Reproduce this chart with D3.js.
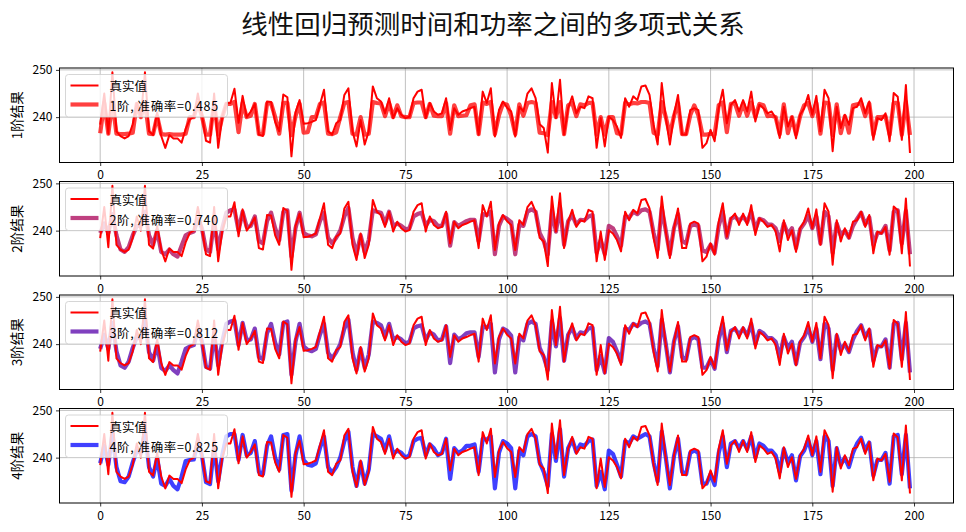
<!DOCTYPE html>
<html><head><meta charset="utf-8">
<script src="https://cdn.jsdelivr.net/npm/d3@7/dist/d3.min.js"></script>
<style>
html,body{margin:0;padding:0;background:#fff;}
svg{display:block;}
text{font-family:"Noto Sans CJK SC","DejaVu Sans",sans-serif;}
</style></head>
<body>
<svg id="chart" width="966" height="532"></svg>
<script>
const title = "线性回归预测时间和功率之间的多项式关系";
const yLabels = ["1阶结果","2阶结果","3阶结果","4阶结果"];
const orders = [1,2,3,4];
const accuracies = [0.485,0.740,0.812,0.825];
const predColors = ["#ff0000","#aa0055","#5500aa","#0000ff"];
const xTicks = [0,25,50,75,100,125,150,175,200];
const yTicks = [240,250];

const actual = [238.4,245,236.5,249.5,237,236,235.5,236,238.5,243,
240,249.5,237,236.2,241,236,233.5,236.2,235.5,235.5,
234.6,237.5,239.5,240,245,240.5,235,234.6,245,233.5,
240,243,243,246,238.8,244.5,240,241.2,242.8,236.3,
236,243.3,243.2,239,237,244.8,244.2,231.7,241,243.6,
238.6,238.7,239,239.4,242.6,245.8,237,236.3,238.7,239.4,
244.7,246.1,237,233.8,239.4,234.2,237,246.5,244,243.3,
240.8,244,239.8,241.9,240.5,239.8,240.1,244,245.4,245.8,
239.8,243,241.2,240.5,240.8,244,237.3,241.9,240.5,241.2,
241.5,241.9,242.2,236.3,245.4,243,246.1,235.9,241.5,243.3,
242,241.2,235.9,242.2,241.2,245,246.1,244,238.5,237.7,
232.5,247.2,239.8,247.9,236.3,241.9,244.4,240.8,242.2,241.9,
244.4,244,233.5,239.8,233.8,240.1,239.4,238,235.6,244,
242.2,244.4,243.6,246.5,246.7,244.7,238.4,234.2,247.2,239.8,
234.2,240.5,244.7,236.3,236.3,241.5,241.9,241.5,233.5,234.5,
237.3,234.9,241.9,245.8,238.7,242.6,243.6,241.2,243.6,241.2,
245.4,239.1,242.6,241.9,240.8,241.2,239.8,235.6,242.2,238,
240.1,235.5,240.5,241.9,244.7,240.5,244.5,237,245.8,244,
232.8,242.2,237.7,240.5,238.4,241.9,242.2,244,240.8,243.3,
235.2,239.8,239.4,240.8,234.9,245.1,244.3,235.2,246.8,232.4];

const pred1 = [236.6,243,236.5,243.2,236.5,236.4,236.4,236.5,236.7,242.8,
240,243.2,236.5,236.4,240.2,236.4,236.3,236.4,236.3,236.3,
236.3,236.5,240,240,243,240.2,236.3,236.3,243,236.3,
240,242.8,242.8,243.2,236.8,243,240,240.3,242.8,236.4,
236.4,242.9,242.9,240,236.5,243,243,236.2,240.2,242.9,
236.7,236.8,240,240,242.8,243.1,236.5,236.4,236.8,240,
243,243.2,236.5,236.3,240,236.3,236.5,243.2,243,242.9,
240.2,243,240,242.5,240.2,240,240,243,243.1,243.1,
240,242.8,240.3,240.2,240.2,243,236.5,242.5,240.2,240.3,
240.4,242.5,242.7,236.4,243.1,242.8,243.2,236.4,240.4,242.9,
242.6,240.3,236.4,242.7,240.3,243,243.2,243,236.7,236.6,
236.2,243.2,240,243.2,236.4,242.5,243,240.2,242.7,242.5,
243,243,236.3,240,236.3,240,240,236.6,236.4,243,
242.7,243,242.9,243.2,243.2,243,236.7,236.3,243.2,240,
236.3,240.2,243,236.4,236.4,240.4,242.5,240.4,236.3,236.3,
236.5,236.3,242.5,243.1,236.8,242.8,242.9,240.3,242.9,240.3,
243.1,240,242.8,242.5,240.2,240.3,240,236.4,242.7,236.6,
240,236.4,240.2,242.5,243,240.2,243,236.5,243.1,243,
236.2,242.7,236.6,240.2,236.7,242.5,242.7,243,240.2,242.9,
236.3,240,240,240.2,236.3,243,243,236.3,243.2,236.2];

const pred2 = [239.5,241.5,239.5,243.5,239,236,235.5,236.5,239,241,
241,244,239,237,240,235.5,235,236,235,234.5,
236.8,239,239.5,239.8,242.5,240.5,236,235.5,242,236,
240.5,243.8,244.3,244.5,240,244,240.8,241,243,237.8,
237.3,242,243.8,240.5,238,244,244.3,234.5,240.5,243.8,
239.5,239,238.8,239.2,242,243.8,238.5,237.3,238.5,240,
243,244.8,238.5,235,239,235.5,238,244.3,244,243.8,
241.5,244,241,241.5,241,240.3,240.5,243,243.5,243.8,
241,242.3,242,241,241,243.5,236.8,241.8,241,241.5,
242,242.3,242.3,237.8,243.5,243.3,244,235,241,243,
242.5,241.8,235,241.3,241,244,244.5,244,239.5,237.8,
235,244.3,239.8,245,237,242,243.3,241.3,242.3,242.2,
243,243.3,235.3,238,235,241,240.5,238.8,236.8,243,
242.8,244,243.5,244.3,244.5,244,239.5,236,244.8,240,
235,240.5,243.5,237.8,237.3,241,241.3,241,235.8,235.5,
237,235.3,241,244,238.5,242.5,243,242,243,241.8,
244,240.2,242.5,242.2,241.3,241.3,240.5,237.8,241.5,239.3,
240.5,236.3,240.3,241.5,243.2,240.5,243,237.3,244,243,
235.3,241.5,239,240,238.5,241,242.5,243.8,241.3,242.8,
237,239.5,239.5,241,235.8,244,244.3,237.3,244.2,235];

const pred3 = [239,242,239,244.5,238.5,235.5,235,236.3,239.2,241.5,
241.2,245,238.3,236.5,240,235,234.3,235.5,234.5,233.8,
236.3,239,239.5,239.8,243,240.6,235.2,234.8,242.3,235.5,
240.5,244.3,244.8,245,239.8,244.5,240.8,241,243.3,237.3,
236.8,242.3,244.3,240.3,237.8,244.5,244.8,233.5,240.5,244.3,
239.5,238.8,238.5,239,242,244.3,238.2,237,238.3,240,
243.3,245.2,238.3,234.5,239,235,237.8,244.8,244.5,244,
241.5,244.3,241,241.5,241,240.2,240.5,243.3,243.8,244,
240.8,242.5,242,240.8,241,243.8,236,242,241,241.5,
242.3,242.5,242.5,237.3,243.8,243.5,244.3,234,241,243.3,
242.8,241.8,234,241.5,240.8,244.3,244.8,244.3,239.2,237.3,
234.5,244.8,239.5,245.5,236.5,242,243.5,241.2,242.5,242.3,
243.3,243.5,234.5,237.5,234,241.3,240.5,238.5,236.3,243.3,
243,244.3,243.8,244.5,244.8,244.3,239.2,235.3,245.2,240,
234,240.5,243.8,237.3,236.8,241,241.5,241,235,235,
236.8,234.8,241,244.3,238.3,242.8,243.3,242,243.3,241.8,
244.3,240,242.8,242.3,241.3,241.3,240.5,237.3,241.5,239.2,
240.5,235.8,240.3,241.5,243.5,240.5,243.3,236.8,244.3,243.3,
234.5,241.8,238.8,240,238.3,241,242.8,244,241.5,243,
236.5,239.5,239.5,241,235,244.3,244.5,236.8,244.5,234];

const pred4 = [238.8,242.5,238.5,245,238,235,234.8,236,239,241.5,
241,245.5,238,236,240,234.5,234,235.5,234,233.3,
236,239.3,239.5,239.6,243.5,240.5,234.8,234.4,242.5,235,
240.5,244.5,245,245,239.5,244.8,240.5,241,243.5,237,
236.5,242.5,244.5,240,237.5,244.8,245,233,240.5,244.5,
239.5,238.5,238.3,238.8,242,244.5,238,236.8,238,240,
243.5,245.5,238,234,239,234.5,237.5,245,244.5,244,
241.5,244.5,240.8,241.5,241,240,240.5,243.5,244,244.2,
240.5,242.8,242,240.5,241,244,235.5,242,241,241.5,
242.5,242.5,242.8,237,244,243.8,244.5,233.5,241,243.5,
243,242,233.5,241.5,240.5,244.5,245,244.5,239,237,
234,245,239.3,246,236,242,243.8,241.2,242.8,242.5,
243.5,243.8,234,237,233.3,241.5,240.8,238.5,236,243.5,
243,244.5,244,244.5,245,244.5,239,235,245.5,240,
233.5,240.3,244,237,236.5,241,241.5,241,234.5,234.5,
236.5,234.2,241,244.5,238,243,243.5,242,243.5,241.8,
244.5,240,243,242.5,241.5,241.5,240.5,237,241.8,239,
240.5,235.2,240.3,241.5,243.8,240.5,243.5,236.5,244.5,243.5,
234,242,238.5,240,238,241,243,244.2,241.5,243.2,
236.2,239.5,239.5,241,234.5,244.5,244.8,236.5,244.8,233.5];

const predictions = [pred1,pred2,pred3,pred4];

const W = 966, H = 532;
const svg = d3.select("#chart");
svg.append("rect").attr("width",W).attr("height",H).attr("fill","#fff");

svg.append("text").attr("x",493).attr("y",34).attr("text-anchor","middle")
  .attr("font-size",26.5).attr("fill","#111").text(title);

const left = 59.5, right = 953.5, panelH = 94.5;
const tops = [68, 181.5, 295, 408.5];

const x = d3.scaleLinear().domain([-10, 209.7]).range([left, right]);

orders.forEach((ord, k) => {
  const top = tops[k];
  const y = d3.scaleLinear().domain([230.4, 250.4]).range([top + panelH, top]);
  const g = svg.append("g");

  g.selectAll(".gx").data(xTicks).enter().append("line")
    .attr("x1",d=>x(d)).attr("x2",d=>x(d)).attr("y1",top).attr("y2",top+panelH)
    .attr("stroke","#b0b0b0").attr("stroke-width",0.8);
  g.selectAll(".gy").data(yTicks).enter().append("line")
    .attr("x1",left).attr("x2",right).attr("y1",d=>y(d)).attr("y2",d=>y(d))
    .attr("stroke","#b0b0b0").attr("stroke-width",0.8);

  const clipId = "clip"+k;
  svg.append("clipPath").attr("id",clipId).append("rect")
    .attr("x",left).attr("y",top).attr("width",right-left).attr("height",panelH);

  const line = d3.line().x((d,i)=>x(i)).y(d=>y(d));
  const pg = g.append("g").attr("clip-path",`url(#${clipId})`);
  pg.append("path").datum(predictions[k]).attr("d",line).attr("fill","none")
    .attr("stroke",predColors[k]).attr("stroke-width",4.2).attr("stroke-opacity",0.75)
    .attr("stroke-linejoin","round");
  pg.append("path").datum(actual).attr("d",line).attr("fill","none")
    .attr("stroke","#ff0000").attr("stroke-width",2).attr("stroke-linejoin","round");

  const ax = g.append("g").attr("transform",`translate(0,${top+panelH})`)
    .call(d3.axisBottom(x).tickValues(xTicks).tickSize(3.5).tickPadding(4.5).tickFormat(d3.format("d")));
  const ay = g.append("g").attr("transform",`translate(${left},0)`)
    .call(d3.axisLeft(y).tickValues(yTicks).tickSize(3.5).tickPadding(3.5));
  [ax,ay].forEach(a=>{
    a.select(".domain").remove();
    a.selectAll("line").attr("stroke","#000").attr("stroke-width",0.8);
    a.selectAll("text").attr("font-size",12).attr("fill","#000")
      .attr("font-family","'Noto Sans CJK SC','DejaVu Sans',sans-serif");
  });
  g.append("rect").attr("x",left).attr("y",top).attr("width",right-left).attr("height",panelH)
    .attr("fill","none").attr("stroke","#000").attr("stroke-width",1);

  g.append("text").attr("transform",`translate(18,${top+panelH/2}) rotate(-90)`)
    .attr("text-anchor","middle").attr("dominant-baseline","middle")
    .attr("font-size",13.5).attr("fill","#000").text(yLabels[k]);

  const lg = g.append("g").attr("transform",`translate(${left+6},${top+6.5})`);
  lg.append("rect").attr("width",162).attr("height",42.5).attr("rx",3)
    .attr("fill","#fff").attr("fill-opacity",0.8).attr("stroke","#cccccc").attr("stroke-width",0.8);
  lg.append("line").attr("x1",5).attr("x2",33).attr("y1",11).attr("y2",11)
    .attr("stroke","#ff0000").attr("stroke-width",2);
  lg.append("line").attr("x1",5).attr("x2",33).attr("y1",30).attr("y2",30)
    .attr("stroke",predColors[k]).attr("stroke-width",4.2).attr("stroke-opacity",0.75);
  lg.append("text").attr("x",44).attr("y",11).attr("dominant-baseline","central")
    .attr("font-size",12.5).attr("fill","#000").text("真实值");
  lg.append("text").attr("x",44).attr("y",31).attr("dominant-baseline","central")
    .attr("font-size",12.5).attr("fill","#000").attr("letter-spacing",0.6)
    .text(`${ord}阶, 准确率=${accuracies[k].toFixed(3)}`);
});
</script>
</body></html>
